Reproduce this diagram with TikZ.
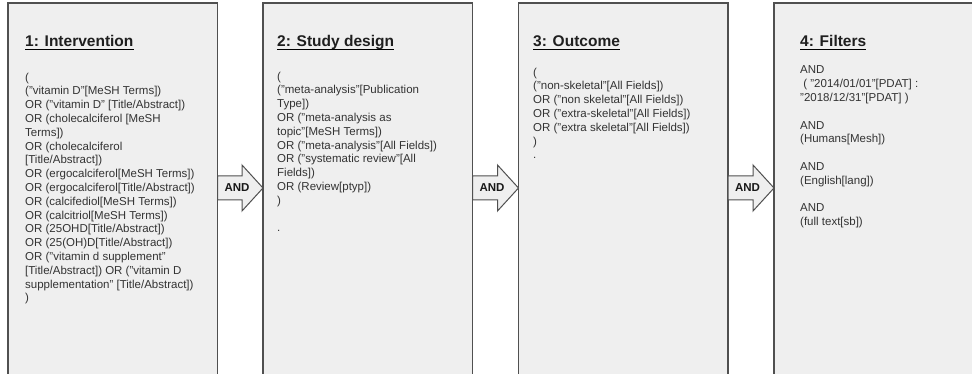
\documentclass[tikz,border=0pt]{standalone}
\usepackage{fontspec}
\setmainfont{Liberation Sans}
\usepackage{tikz}
\definecolor{boxfill}{HTML}{EFEFEF}
\definecolor{boxline}{HTML}{505050}
\definecolor{txtgray}{HTML}{333333}

\begin{document}
\begin{tikzpicture}[x=1pt,y=-1pt,
  box/.style={shape=rectangle, draw=boxline, fill=boxfill, line width=1.2pt, outer sep=0pt, minimum width=209.5pt, minimum height=400pt, anchor=north west},
  head/.style={anchor=base west, inner sep=0pt, font=\bfseries\fontsize{15.5}{18}\selectfont, text=black!88},
  query/.style={anchor=north west, inner sep=0pt, align=left, font=\fontsize{11.5}{13.8}\selectfont, text=txtgray},
  andtext/.style={inner sep=0pt, font=\bfseries\fontsize{11.5}{13.8}\selectfont, text=black!90},
  andarrow/.style={draw=boxline, fill=boxfill, line width=1pt, line join=miter}]
\useasboundingbox (0,0) rectangle (972,374);
\clip (0,0) rectangle (972,374);
\fill[white] (0,0) rectangle (972,374);

\node[box](A) at (8,3) {};
\node[box](B) at (263,3) {};
\node[box](C) at (518.5,3) {};
\node[box](D) at (774,3) {};

\node[head](TA) at (25,47) {1: Intervention};
\node[head](TB) at (277,47) {2: Study design};
\node[head](TC) at (533,47) {3: Outcome};
\node[head](TD) at (800,47) {4: Filters};
\draw[line width=1.2pt] ([yshift=-2.8pt]TA.base west) -- ([yshift=-2.8pt]TA.base east);
\draw[line width=1.2pt] ([yshift=-2.8pt]TB.base west) -- ([yshift=-2.8pt]TB.base east);
\draw[line width=1.2pt] ([yshift=-2.8pt]TC.base west) -- ([yshift=-2.8pt]TC.base east);
\draw[line width=1.2pt] ([yshift=-2.8pt]TD.base west) -- ([yshift=-2.8pt]TD.base east);

\node[query](QA) at (25,72.6) {(\\
("vitamin D"[MeSH Terms])\\
OR ("vitamin D" [Title/Abstract])\\
OR (cholecalciferol [MeSH\\
Terms])\\
OR (cholecalciferol\\
{}[Title/Abstract])\\
OR (ergocalciferol[MeSH Terms])\\
OR (ergocalciferol[Title/Abstract])\\
OR (calcifediol[MeSH Terms])\\
OR (calcitriol[MeSH Terms])\\
OR (25OHD[Title/Abstract])\\
OR (25(OH)D[Title/Abstract])\\
OR ("vitamin d supplement"\\
{}[Title/Abstract]) OR ("vitamin D\\
supplementation" [Title/Abstract])\\
)};
\node[query](QB) at (277,71.6) {(\\
("meta-analysis"[Publication\\
Type])\\
OR ("meta-analysis as\\
topic"[MeSH Terms])\\
OR ("meta-analysis"[All Fields])\\
OR ("systematic review"[All\\
Fields])\\
OR (Review[ptyp])\\
)\\[13.8pt]
.};
\node[query](QC) at (533,67.6) {(\\
("non-skeletal"[All Fields])\\
OR ("non skeletal"[All Fields])\\
OR ("extra-skeletal"[All Fields])\\
OR ("extra skeletal"[All Fields])\\
)\\
.};
\node[query](QD) at (800,65.8) {AND\\
\ ( "2014/01/01"[PDAT] :\\
"2018/12/31"[PDAT] )\\[13.8pt]
AND\\
(Humans[Mesh])\\[13.8pt]
AND\\
(English[lang])\\[13.8pt]
AND\\
(full text[sb])};

\node[andtext](AB) at (237,188) {};
\node[andtext](BC) at (492,188) {};
\node[andtext](CD) at (747.5,188) {};
\draw[andarrow] (A.east |- AB) ++(0,-12) -- ++(24.5,0) -- ++(0,-11) -- (B.west |- AB) -- ++(-21,23) -- ++(0,-11) -- ++(-24.5,0) -- cycle;
\draw[andarrow] (B.east |- BC) ++(0,-12) -- ++(25,0) -- ++(0,-11) -- (C.west |- BC) -- ++(-21,23) -- ++(0,-11) -- ++(-25,0) -- cycle;
\draw[andarrow] (C.east |- CD) ++(0,-12) -- ++(25,0) -- ++(0,-11) -- (D.west |- CD) -- ++(-21,23) -- ++(0,-11) -- ++(-25,0) -- cycle;
\node[andtext] at (AB) {AND};
\node[andtext] at (BC) {AND};
\node[andtext] at (CD) {AND};
\end{tikzpicture}
\end{document}
